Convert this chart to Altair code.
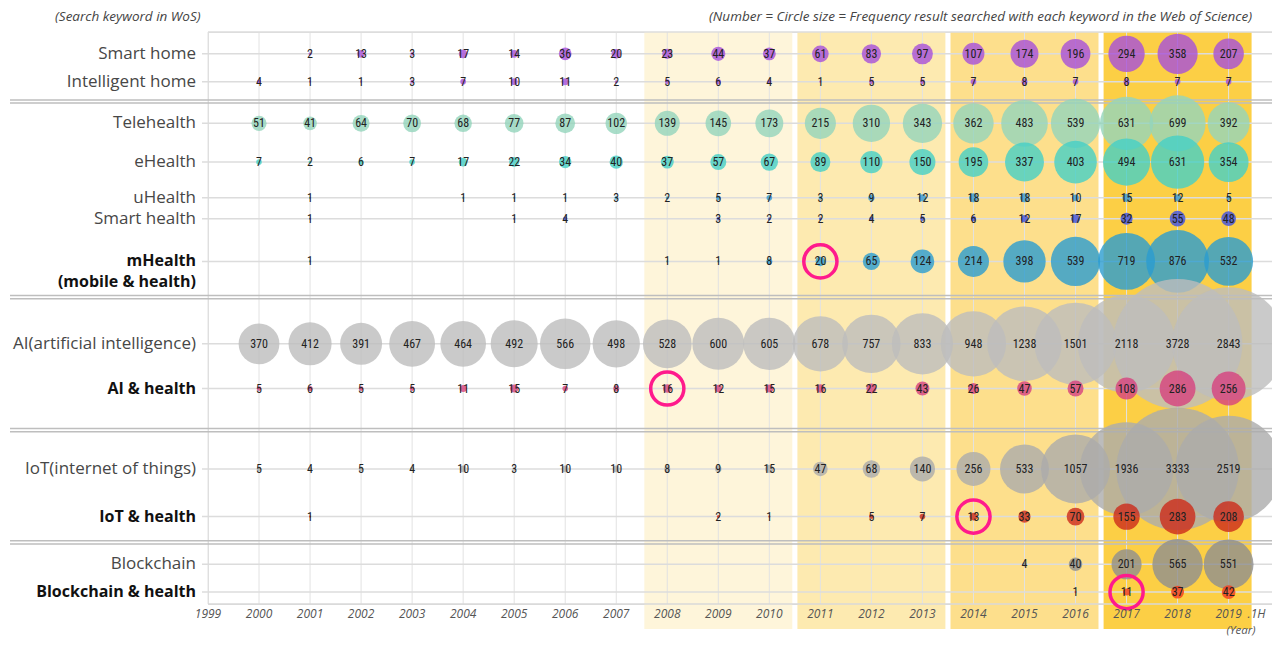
import altair as alt
import pandas as pd

# ---------------- data ----------------
YEARS = list(range(2000, 2020))
AXIS_YEARS = list(range(1999, 2020))
N = None

ROWS = ["Smart home", "Intelligent home", "Telehealth", "eHealth", "uHealth",
        "Smart health", "mHealth", "AI", "AI & health", "IoT", "IoT & health",
        "Blockchain", "Blockchain & health"]

smart_home = [N, 2, 13, 3, 17, 14, 36, 20, 23, 44, 37, 61, 83, 97, 107, 174, 196, 294, 358, 207]
intelligent_home = [4, 1, 1, 3, 7, 10, 11, 2, 5, 6, 4, 1, 5, 5, 7, 8, 7, 8, 7, 7]
telehealth = [51, 41, 64, 70, 68, 77, 87, 102, 139, 145, 173, 215, 310, 343, 362, 483, 539, 631, 699, 392]
ehealth = [7, 2, 6, 7, 17, 22, 34, 40, 37, 57, 67, 89, 110, 150, 195, 337, 403, 494, 631, 354]
uhealth = [N, 1, N, N, 1, 1, 1, 3, 2, 5, 7, 3, 9, 12, 18, 18, 10, 15, 12, 5]
smart_health = [N, 1, N, N, N, 1, 4, N, N, 3, 2, 2, 4, 5, 6, 12, 17, 32, 55, 48]
mhealth = [N, 1, N, N, N, N, N, N, 1, 1, 8, 20, 65, 124, 214, 398, 539, 719, 876, 532]
ai = [370, 412, 391, 467, 464, 492, 566, 498, 528, 600, 605, 678, 757, 833, 948, 1238, 1501, 2118, 3728, 2843]
ai_health = [5, 6, 5, 5, 11, 15, 7, 8, 16, 12, 15, 16, 22, 43, 26, 47, 57, 108, 286, 256]
iot = [5, 4, 5, 4, 10, 3, 10, 10, 8, 9, 15, 47, 68, 140, 256, 533, 1057, 1936, 3333, 2519]
iot_health = [N, 1, N, N, N, N, N, N, N, 2, 1, N, 5, 7, 13, 33, 70, 155, 283, 208]
blockchain = [N] * 15 + [4, 40, 201, 565, 551]
blockchain_health = [N] * 16 + [1, 11, 37, 42]

SERIES = [smart_home, intelligent_home, telehealth, ehealth, uhealth, smart_health,
          mhealth, ai, ai_health, iot, iot_health, blockchain, blockchain_health]

ROW_LABELS = ["Smart home", "Intelligent home", "Telehealth", "eHealth", "uHealth",
              "Smart health", "mHealth\n(mobile & health)", "AI(artificial intelligence)",
              "AI & health", "IoT(internet of things)", "IoT & health", "Blockchain",
              "Blockchain & health"]
BOLD_ROWS = ["mHealth", "AI & health", "IoT & health", "Blockchain & health"]

HIGHLIGHT_ROWS = ["mHealth", "AI & health", "IoT & health", "Blockchain & health"]
HIGHLIGHT_YEARS = [2011, 2008, 2014, 2017]

BAND_START = [2008, 2011, 2014, 2017]
BAND_END = [2010, 2013, 2016, 2019]

NOTE_LEFT = "(Search keyword in WoS)"
NOTE_RIGHT = "(Number = Circle size = Frequency result searched with each keyword in the Web of Science)"
YEAR_TITLE = "(Year)"
HALF_TAG = ".1H"

# ---------------- layout / style ----------------
W, H = 1064, 572
ROW_POS = [22, 50, 92, 131, 167, 188, 231, 314, 359, 440, 488, 536, 564]
SEP_POS = [70, 267, 401, 514]
BAND_COLORS = ["#FEF5DA", "#FDEAB0", "#FDDF8C", "#FCCF45"]
ROW_COLORS = ["#A64FD9", "#A64FD9", "#93D4BC", "#45D0C5", "#3597D3", "#3F4FE0",
              "#2A9CCF", "#BDBDBD", "#D6417E", "#ABABAB", "#CC2A1A", "#8E8E8E", "#F23A1A"]
NUM_FONT = "Liberation Sans Narrow, Roboto Condensed, Roboto, sans-serif"
LAB_FONT = "Open Sans, sans-serif"

pos_of = dict(zip(ROWS, ROW_POS))

recs = []
for r, vals in zip(ROWS, SERIES):
    for y, v in zip(YEARS, vals):
        if v is not None:
            recs.append({"row": r, "year": y, "value": v, "pos": pos_of[r]})
df = pd.DataFrame(recs)

bands = pd.DataFrame({"start": BAND_START, "end": BAND_END, "color": BAND_COLORS})
years_df = pd.DataFrame({"year": AXIS_YEARS})
rows_df = pd.DataFrame({"row": ROWS, "pos": ROW_POS, "label": ROW_LABELS})
rows_df["bold"] = rows_df["row"].isin(BOLD_ROWS)
seps_df = pd.DataFrame({"pos": SEP_POS})
hl_df = pd.DataFrame({"row": HIGHLIGHT_ROWS, "year": HIGHLIGHT_YEARS})
hl_df["pos"] = hl_df["row"].map(pos_of)
one = pd.DataFrame({"year": [2019]})

xs = alt.Scale(domain=[1999, 2019.85], nice=False, zero=False)
ys = alt.Scale(domain=[0, 576], reverse=True, nice=False, zero=False)
X = lambda f="year:Q": alt.X(f, scale=xs, axis=None)
Y = lambda f="pos:Q": alt.Y(f, scale=ys, axis=None)

band_layer = alt.Chart(bands).transform_calculate(
    x0="datum.start - 0.45", x1="datum.end + 0.45"
).mark_rect().encode(
    x=X("x0:Q"), x2="x1:Q",
    y=alt.value(0), y2=alt.value(H + 25),
    color=alt.Color("color:N", scale=None),
)

vgrid = alt.Chart(years_df).mark_rule(color="#E2E2E2", strokeWidth=1).encode(
    x=X(), y=alt.value(0), y2=alt.value(H),
)

bottom_line = alt.Chart(one).mark_rule(color="#D8D8D8", strokeWidth=1.5).encode(
    x=alt.value(0), x2=alt.value(W), y=alt.value(H)
)

xlabels = alt.Chart(years_df).mark_text(
    fontSize=12, fontStyle="italic", font=LAB_FONT, color="#555", baseline="middle"
).encode(x=X(), y=alt.value(H + 10), text=alt.Text("year:Q", format="d"))

hgrid = alt.Chart(rows_df).mark_rule(color="#DCDCDC", strokeWidth=1.5).encode(
    y=Y(), x=alt.value(-6), x2=alt.value(W + 8),
)

top_border = alt.Chart(one).mark_rule(color="#DCDCDC", strokeWidth=1.5).encode(
    x=alt.value(0), x2=alt.value(W + 8), y=alt.value(0)
)

sep1 = alt.Chart(seps_df).mark_rule(color="#BEBEBE", strokeWidth=1.5, yOffset=-1.6).encode(
    y=Y(), x=alt.value(-198), x2=alt.value(W + 8)
)
sep2 = alt.Chart(seps_df).mark_rule(color="#BEBEBE", strokeWidth=1.5, yOffset=1.6).encode(
    y=Y(), x=alt.value(-198), x2=alt.value(W + 8)
)

circles = alt.Chart(df).mark_circle(opacity=0.8).encode(
    x=X(), y=Y(),
    size=alt.Size("value:Q", scale=alt.Scale(type="linear", domain=[0, 4000],
                                              range=[0, 18000], zero=True, nice=False),
                  legend=None),
    color=alt.Color("row:N", scale=alt.Scale(domain=ROWS, range=ROW_COLORS), legend=None),
)

rings = alt.Chart(hl_df).mark_point(shape="circle", filled=False, size=1100,
                                    strokeWidth=3.5, color="#FF1A8C", opacity=1).encode(
    x=X(), y=Y(),
)

values = alt.Chart(df).mark_text(fontSize=12, font=NUM_FONT, color="#222").encode(
    x=X(), y=Y(), text=alt.Text("value:Q", format="d"),
)

labels_norm = alt.Chart(rows_df).transform_filter("!datum.bold").mark_text(
    align="right", fontSize=17, font=LAB_FONT, color="#474747"
).encode(x=alt.value(-12), y=Y(), text="label:N")

labels_bold = alt.Chart(rows_df).transform_filter("datum.bold").mark_text(
    align="right", fontSize=16, font=LAB_FONT, fontWeight="bold", color="#111",
    lineBreak="\n", lineHeight=21
).encode(x=alt.value(-12), y=Y(), text="label:N")

note_left = alt.Chart(one).mark_text(
    text=NOTE_LEFT, align="left", baseline="middle", fontSize=13.5, fontStyle="italic",
    font=LAB_FONT, color="#444"
).encode(x=alt.value(-153), y=alt.value(-15))
note_right = alt.Chart(one).mark_text(
    text=NOTE_RIGHT, align="right", baseline="middle", fontSize=13.5, fontStyle="italic",
    font=LAB_FONT, color="#444"
).encode(x=alt.value(1044), y=alt.value(-15))
half = alt.Chart(one).mark_text(
    text=HALF_TAG, align="left", baseline="middle", fontSize=12, fontStyle="italic",
    font=LAB_FONT, color="#555", dx=19
).encode(x=X(), y=alt.value(H + 10))
year_t = alt.Chart(one).mark_text(
    text=YEAR_TITLE, align="center", baseline="bottom", fontSize=11.5, fontStyle="italic",
    font=LAB_FONT, color="#555"
).encode(x=alt.value(1033), y=alt.value(H + 32))

chart = alt.layer(
    band_layer, vgrid, hgrid, top_border, bottom_line, sep1, sep2, circles, rings,
    values, labels_norm, labels_bold, xlabels, note_left, note_right, half, year_t
).properties(
    width=W, height=H,
    autosize=alt.AutoSizeParams(type="none"),
    padding={"left": 200, "top": 24, "right": 0, "bottom": 32},
).configure_view(stroke=None).configure(background="white")

chart.save("out.html", embed_options={"renderer": "svg", "actions": False})
